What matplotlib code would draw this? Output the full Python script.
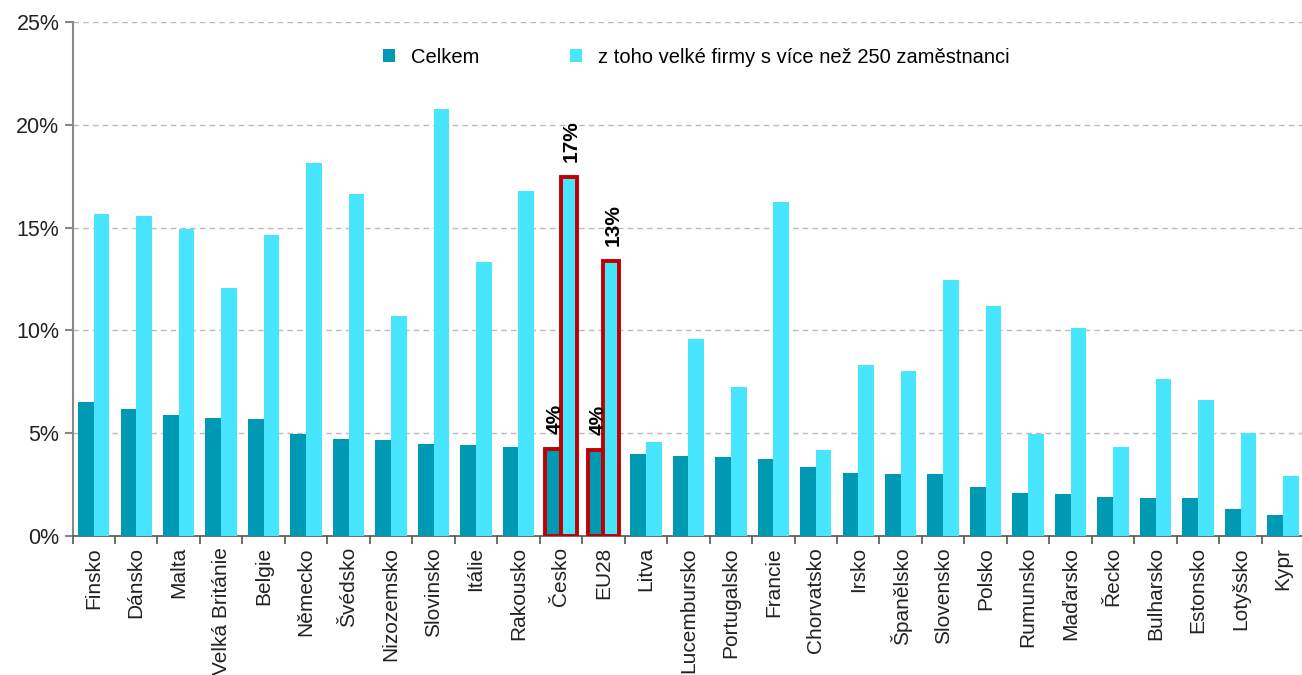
import matplotlib.pyplot as plt
import numpy as np

plt.rcParams['font.family'] = ['Liberation Sans', 'DejaVu Sans']

countries = ['Finsko', 'Dánsko', 'Malta', 'Velká Británie', 'Belgie', 'Německo',
             'Švédsko', 'Nizozemsko', 'Slovinsko', 'Itálie', 'Rakousko', 'Česko',
             'EU28', 'Litva', 'Lucembursko', 'Portugalsko', 'Francie', 'Chorvatsko',
             'Irsko', 'Španělsko', 'Slovensko', 'Polsko', 'Rumunsko', 'Maďarsko',
             'Řecko', 'Bulharsko', 'Estonsko', 'Lotyšsko', 'Kypr']
celkem = [6.5, 6.18, 5.88, 5.74, 5.69, 4.96, 4.72, 4.67, 4.47, 4.43, 4.33, 4.23,
          4.18, 3.99, 3.89, 3.84, 3.75, 3.36, 3.06, 3.02, 3.02, 2.38, 2.09, 2.04,
          1.9, 1.85, 1.85, 1.31, 1.02]
velke = [15.66, 15.56, 14.93, 12.06, 14.64, 18.14, 16.63, 10.7, 20.77, 13.33, 16.78,
         17.46, 13.38, 4.57, 9.58, 7.25, 16.25, 4.18, 8.32, 8.03, 12.45, 11.19, 4.96,
         10.12, 4.33, 7.64, 6.61, 5.01, 2.92]
highlight = ['Česko', 'EU28']

dark = '#0099B4'
light = '#48E5FF'
red = '#C00000'

fig = plt.figure(figsize=(13.02, 6.75), dpi=100)
ax = fig.add_axes([0.0557, 0.206, 0.946, 0.761])

x = np.arange(len(countries))
w = 0.37
b1 = ax.bar(x - w / 2, celkem, w, color=dark, label='Celkem', zorder=3)
b2 = ax.bar(x + w / 2, velke, w, color=light,
            label='z toho velké firmy s více než 250 zaměstnanci', zorder=3)

for i, c in enumerate(countries):
    if c in highlight:
        for bar, val in ((b1[i], celkem[i]), (b2[i], velke[i])):
            bar.set_edgecolor(red)
            bar.set_linewidth(2.8)
            ax.text(bar.get_x() + bar.get_width() / 2 + 0.05, val + 0.75,
                    f'{val:.0f}%', rotation=90, ha='center', va='bottom',
                    fontsize=15, fontweight='bold', zorder=4)

ax.set_ylim(0, 25)
ax.set_yticks(np.arange(0, 26, 5))
ax.set_yticklabels([f'{v}%' for v in range(0, 26, 5)], fontsize=15.5, color='#222222')
ax.set_xlim(-0.5, len(countries) - 0.5)
ax.set_xticks(x)
ax.set_xticklabels(countries, rotation=90, fontsize=15, color='#222222')
ax.tick_params(axis='x', length=0, pad=8)
ax.set_xticks(np.arange(-0.5, len(countries)), minor=True)
ax.tick_params(axis='x', which='minor', length=6, color='#555555', width=1.2)
ax.tick_params(axis='y', length=6, color='#888888', width=1.5)

ax.grid(axis='y', linestyle=(0, (4, 3)), color='#bbbbbb', linewidth=1, zorder=0)
for s in ['top', 'right']:
    ax.spines[s].set_visible(False)
ax.spines['left'].set_color('#888888')
ax.spines['left'].set_linewidth(1.5)
ax.spines['bottom'].set_color('#555555')
ax.spines['bottom'].set_linewidth(1.2)

fig.legend(loc='center', bbox_to_anchor=(0.535, 0.915), ncol=2, frameon=False,
           fontsize=14.5, handlelength=0.6, handleheight=0.6, columnspacing=4.5,
           handletextpad=0.8)

fig.savefig('out.png', dpi=100)
